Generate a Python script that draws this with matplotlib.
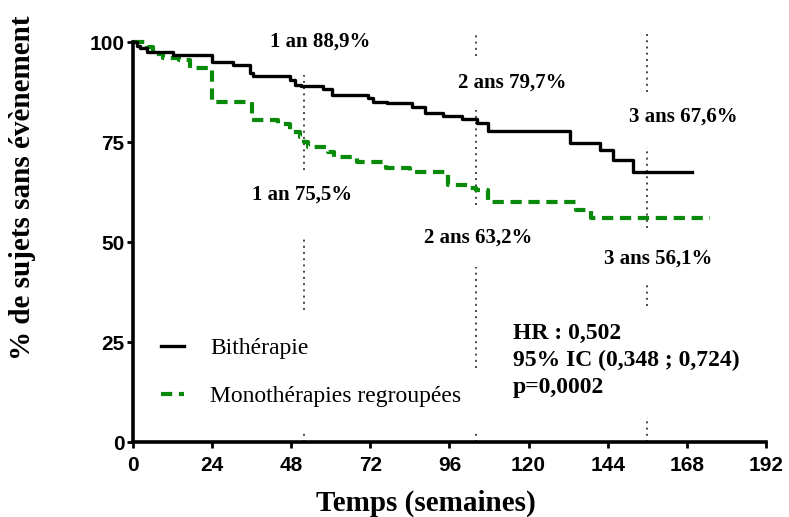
import matplotlib
matplotlib.use("Agg")
import matplotlib.pyplot as plt

# Kaplan-Meier step points (weeks, % event-free)
bi_t = [0, 1.2, 2, 4.2, 12.1, 24, 30.3, 35.5, 36.4, 47.6, 49.1, 51, 57.6, 60.4,
        71.3, 72.8, 77, 84.6, 88.6, 94, 99.8, 104.3, 107.7, 132.5, 141.6, 145.6,
        151.7, 169.5]
bi_y = [100, 99, 98.5, 97.5, 96.8, 95, 94.3, 92.3, 91.5, 90.5, 89.3, 88.9, 88.2,
        86.8, 86, 85, 84.7, 83.8, 82.3, 81.5, 80.8, 79.8, 77.8, 74.8, 73, 70.5,
        67.6, 67.6]

mono_t = [0, 4.2, 6, 9, 14, 17.3, 24, 34.5, 36, 44, 47.6, 50.5, 52, 53, 59, 61,
          68, 76.7, 84, 95.5, 101.6, 104, 107.7, 134.5, 139, 175]
mono_y = [100, 98.7, 97, 96, 95.5, 93.5, 85, 85, 80.5, 79.5, 77.5, 76.2, 75,
          73.8, 72.5, 71.2, 70, 68.5, 67.5, 64.2, 63.5, 63, 60, 58, 56, 56]

labels = ["Bithérapie", "Monothérapies regroupées"]
x_ticks = [0, 24, 48, 72, 96, 120, 144, 168, 192]
y_ticks = [0, 25, 50, 75, 100]

# vertical guide lines at 1, 2, 3 years (broken around the labels)
guide_x = [52, 104, 156]
guide_segments = [
    [(91.75, 68), (51, 33), (2.5, 0)],
    [(102.25, 96.5), (83, 59.25), (43.75, 18.5), (2.5, 0)],
    [(102.25, 87.5), (73.75, 53.5), (39.75, 34), (6.25, 0)],
]

notes = [
    (56.7, 100, "1 an 88,9%"),
    (51.3, 61.75, "1 an 75,5%"),
    (115, 89.75, "2 ans 79,7%"),
    (104.6, 51, "2 ans 63,2%"),
    (166.8, 81.25, "3 ans 67,6%"),
    (159.2, 45.75, "3 ans 56,1%"),
]
stats = ["HR : 0,502", "95% IC (0,348 ; 0,724)", "p=0,0002"]

serif = ["Liberation Serif", "DejaVu Serif"]
tickfont = ["Liberation Sans Narrow", "Liberation Sans", "DejaVu Sans"]

fig = plt.figure(figsize=(7.89, 5.17), dpi=100)
ax = fig.add_axes([0.1686, 0.145, 0.8022, 0.7737])

for x, segs in zip(guide_x, guide_segments):
    for top, bot in segs:
        ax.plot([x, x], [bot, top], color="#444444", lw=1.4,
                linestyle=(0, (1, 2.2)), clip_on=False, zorder=1)

ax.step(bi_t, bi_y, where="post", color="black", lw=2.4, label=labels[0],
        clip_on=False, zorder=3)
ax.step(mono_t, mono_y, where="post", color="#0a8a0a", lw=3,
        linestyle=(0, (2.7, 1.6)), label=labels[1], clip_on=False, zorder=2)

for x, y, s in notes:
    ax.text(x, y, s, ha="center", va="center", fontsize=15, fontweight="bold",
            family=serif)

for i, s in enumerate(stats):
    ax.text(115.3, 27.25 - i * 6.8, s, ha="left", va="center", fontsize=17,
            fontweight="bold", family=serif)

leg = ax.legend(loc="lower left", bbox_to_anchor=(0.01, 0.035), frameon=False,
                handlelength=1.0, handletextpad=1.1, labelspacing=1.1,
                prop={"family": serif, "size": 17})

ax.set_xlim(0, 192)
ax.set_ylim(0, 100)
ax.set_xticks(x_ticks)
ax.set_yticks(y_ticks)
for sp in ["top", "right"]:
    ax.spines[sp].set_visible(False)
for sp in ["left", "bottom"]:
    ax.spines[sp].set_linewidth(2.6)
ax.tick_params(width=2, length=4, labelsize=15, pad=2)
ax.tick_params(axis="x", pad=6)
for lab in ax.get_xticklabels() + ax.get_yticklabels():
    lab.set_fontweight("bold")
    lab.set_family(tickfont)

ax.set_xlabel("Temps (semaines)", fontsize=21, fontweight="bold", family=serif)
ax.xaxis.label.set_va("center")
ax.xaxis.set_label_coords(0.463, -0.1525)
ax.set_ylabel("% de sujets sans évènement", fontsize=21, fontweight="bold",
              family=serif)
ax.yaxis.label.set_va("center")
ax.yaxis.set_label_coords(-0.175, 0.635)

fig.savefig("out.png", dpi=100)
